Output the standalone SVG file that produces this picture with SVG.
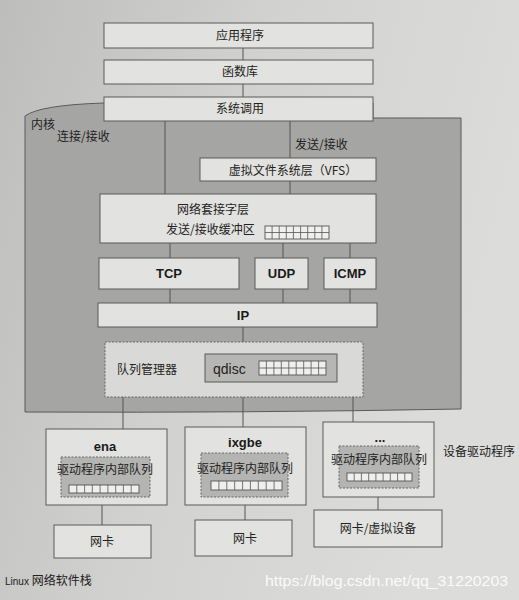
<svg xmlns="http://www.w3.org/2000/svg" width="519" height="600" viewBox="0 0 519 600">
<defs>
<linearGradient id="page" x1="0" y1="0" x2="1" y2="0.3">
<stop offset="0" stop-color="#bdbdbb"/>
<stop offset="0.5" stop-color="#d2d2d0"/>
<stop offset="1" stop-color="#dcdcda"/>
</linearGradient>
<style>
.box{fill:#e2e2e0;stroke:#5a5a5a;stroke-width:1}
.dark{fill:#b6b6b4;stroke:#5a5a5a;stroke-width:1}
.dot{fill:#b4b4b2;stroke:#666;stroke-width:1;stroke-dasharray:2 1.5}
.ln{stroke:#555;stroke-width:1;fill:none}
.grid{fill:#efefed;stroke:#555;stroke-width:0.9}
.gl{stroke:#555;stroke-width:0.8;fill:none}
.cn{font-family:"Noto Sans CJK SC","Noto Sans",sans-serif;font-size:12px;fill:#222}
.en{font-family:"Liberation Sans",Arial,sans-serif;font-weight:bold;font-size:13px;fill:#1a1a1a}
.mid{text-anchor:middle}
</style>
</defs>
<rect width="519" height="600" fill="url(#page)"/>

<g id="kernel">
<path d="M25,116 Q40,105 104,103 H373 V118 H461 V409 Q250,413 25,412 Z" fill="#a5a5a3" stroke="#5a5a5a" stroke-width="1"/>
<text class="cn" x="31" y="129" font-size="11">内核</text>
<text class="cn" x="57" y="141">连接/接收</text>
<text class="cn" x="295" y="149">发送/接收</text>
</g>

<g id="connectors" class="ln">
<line x1="243" y1="48" x2="243" y2="60"/>
<line x1="243" y1="84" x2="243" y2="97"/>
<line x1="165" y1="121" x2="165" y2="194"/>
<line x1="290" y1="121" x2="290" y2="158"/>
<line x1="290" y1="181" x2="290" y2="194"/>
<line x1="170" y1="243" x2="170" y2="258"/>
<line x1="283" y1="243" x2="283" y2="258"/>
<line x1="350" y1="243" x2="350" y2="258"/>
<line x1="170" y1="289" x2="170" y2="303"/>
<line x1="283" y1="289" x2="283" y2="303"/>
<line x1="350" y1="289" x2="350" y2="303"/>
<line x1="243" y1="327" x2="243" y2="342"/>
<line x1="123" y1="397" x2="123" y2="429"/>
<line x1="243" y1="397" x2="243" y2="427"/>
<line x1="353" y1="397" x2="353" y2="422"/>
<line x1="102" y1="505" x2="102" y2="525"/>
<line x1="245" y1="505" x2="245" y2="520"/>
<line x1="378" y1="497" x2="378" y2="510"/>
</g>

<g id="app">
<rect class="box" x="104" y="23" width="269" height="25"/>
<text class="cn mid" x="240" y="40">应用程序</text>
</g>
<g id="lib">
<rect class="box" x="104" y="60" width="269" height="24"/>
<text class="cn mid" x="240" y="76">函数库</text>
</g>
<g id="syscall">
<rect class="box" x="104" y="97" width="269" height="24"/>
<text class="cn mid" x="240" y="113">系统调用</text>
</g>

<g id="vfs">
<rect class="box" x="200" y="158" width="176" height="23"/>
<text class="cn mid" x="293" y="175">虚拟文件系统层（VFS）</text>
</g>

<g id="socket">
<rect class="box" x="100" y="194" width="276" height="49"/>
<text class="cn mid" x="213" y="214">网络套接字层</text>
<text class="cn" x="166" y="234">发送/接收缓冲区</text>
<rect class="grid" x="265" y="226" width="64" height="13"/>
<path class="gl" d="M265,232.5H329M272.1,226V239M279.2,226V239M286.3,226V239M293.4,226V239M300.6,226V239M307.7,226V239M314.8,226V239M321.9,226V239"/>
</g>

<g id="tcp">
<rect class="box" x="99" y="258" width="140" height="31"/>
<text class="en mid" x="169" y="278">TCP</text>
</g>
<g id="udp">
<rect class="box" x="255" y="258" width="53" height="31"/>
<text class="en mid" x="281.5" y="278">UDP</text>
</g>
<g id="icmp">
<rect class="box" x="324" y="258" width="52" height="31"/>
<text class="en mid" x="350" y="278">ICMP</text>
</g>

<g id="ip">
<rect class="box" x="98" y="303" width="279" height="24"/>
<text class="en mid" x="243" y="320">IP</text>
</g>

<g id="queue">
<rect x="105" y="342" width="258" height="55" fill="#d9d9d7" stroke="#666" stroke-width="1" stroke-dasharray="2 1.5"/>
<text class="cn" x="117" y="374">队列管理器</text>
<rect class="dark" x="205" y="354" width="132" height="28"/>
<text x="213" y="374" font-family="Liberation Sans,Arial,sans-serif" font-size="14" fill="#222">qdisc</text>
<rect class="grid" x="259" y="361" width="67" height="14"/>
<path class="gl" d="M259,368H326M266.4,361V375M273.9,361V375M281.3,361V375M288.8,361V375M296.2,361V375M303.7,361V375M311.1,361V375M318.6,361V375"/>
</g>

<g id="ena">
<rect class="box" x="46" y="429" width="121" height="76"/>
<text class="en mid" x="105" y="451">ena</text>
<rect class="dot" x="61" y="457" width="89" height="40"/>
<text class="cn mid" x="105" y="474" font-size="11">驱动程序内部队列</text>
<rect class="grid" x="69" y="485" width="70" height="8"/>
<path class="gl" d="M76.8,485V493M84.6,485V493M92.3,485V493M100.1,485V493M107.9,485V493M115.7,485V493M123.4,485V493M131.2,485V493"/>
</g>

<g id="ixgbe">
<rect class="box" x="185" y="427" width="121" height="78"/>
<text class="en mid" x="245" y="447">ixgbe</text>
<rect class="dot" x="201" y="453" width="87" height="44"/>
<text class="cn mid" x="245" y="473" font-size="11">驱动程序内部队列</text>
<rect class="grid" x="211" y="481" width="71" height="9"/>
<path class="gl" d="M218.9,481V490M226.8,481V490M234.7,481V490M242.6,481V490M250.4,481V490M258.3,481V490M266.2,481V490M274.1,481V490"/>
</g>

<g id="other">
<rect class="box" x="323" y="422" width="111" height="75"/>
<text class="en mid" x="380" y="442">...</text>
<rect class="dot" x="339" y="446" width="80" height="42"/>
<text class="cn mid" x="379" y="464" font-size="10">驱动程序内部队列</text>
<rect class="grid" x="347" y="473" width="65" height="8"/>
<path class="gl" d="M354.2,473V481M361.4,473V481M368.7,473V481M375.9,473V481M383.1,473V481M390.3,473V481M397.6,473V481M404.8,473V481"/>
</g>

<text class="cn" x="443" y="456" font-size="11">设备驱动程序</text>

<g id="nic1">
<rect class="box" x="54" y="525" width="97" height="33"/>
<text class="cn mid" x="102" y="546">网卡</text>
</g>
<g id="nic2">
<rect class="box" x="195" y="520" width="97" height="36"/>
<text class="cn mid" x="245" y="543">网卡</text>
</g>
<g id="nic3">
<rect class="box" x="314" y="510" width="128" height="37"/>
<text class="cn mid" x="378" y="533">网卡/虚拟设备</text>
</g>

<text x="5" y="585" font-family="Liberation Sans,Arial,sans-serif" font-size="10" fill="#222">Linux <tspan font-family="Noto Sans CJK SC,sans-serif" font-size="12">网络软件栈</tspan></text>
<text x="265" y="586" font-family="Liberation Sans,Arial,sans-serif" font-size="15" fill="#ffffff" fill-opacity="0.9" textLength="243" lengthAdjust="spacingAndGlyphs">https://blog.csdn.net/qq_31220203</text>
</svg>
